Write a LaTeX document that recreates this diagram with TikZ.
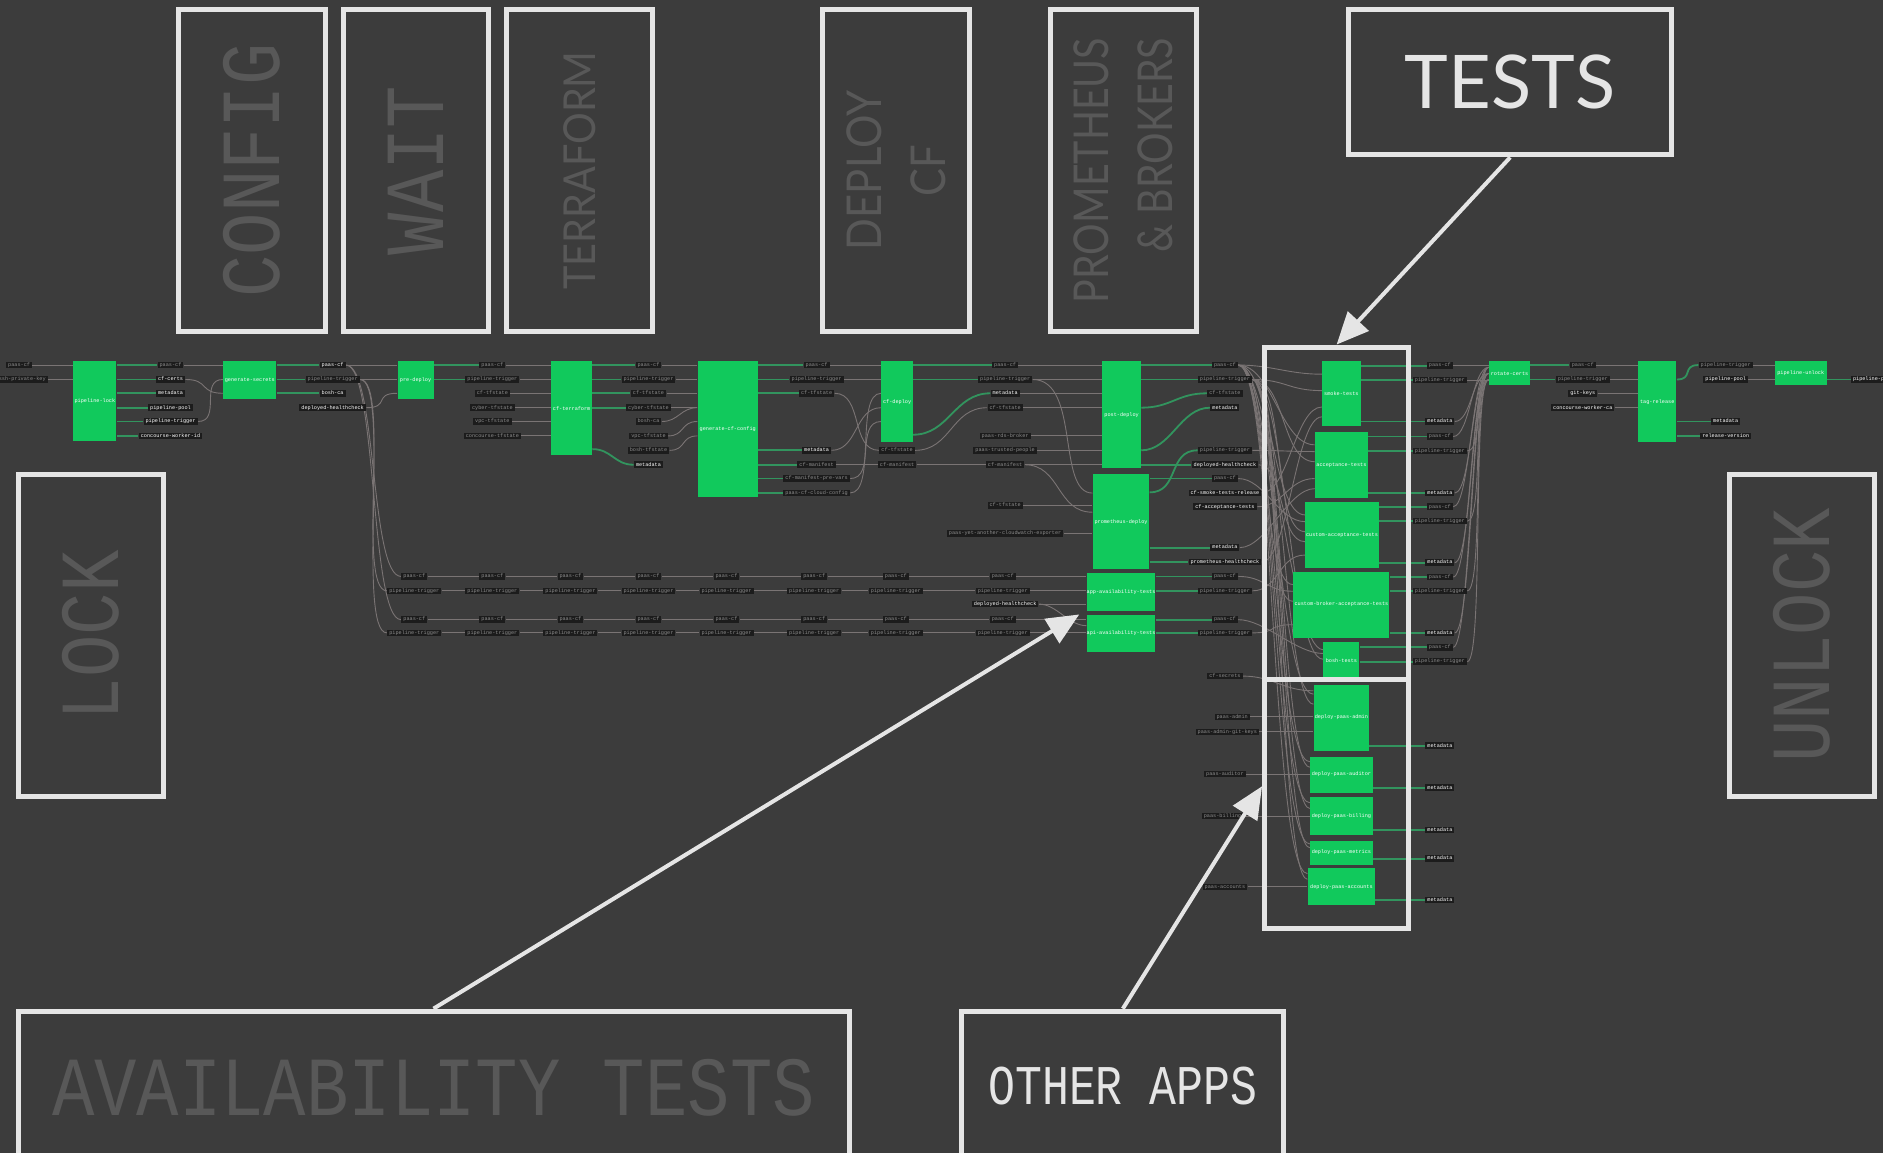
\documentclass[tikz,border=0pt]{standalone}
\usepackage{fontspec}
\setmainfont{Lato}
\newfontfamily\codefont{Liberation Mono}
\usetikzlibrary{arrows.meta,fit,calc}

\definecolor{backdrop}{RGB}{60,60,60}
\definecolor{jobgreen}{RGB}{17,201,92}
\definecolor{feedgreen}{RGB}{50,148,94}
\definecolor{wiregrey}{RGB}{122,116,116}
\definecolor{chip}{RGB}{28,28,28}
\definecolor{chiptext}{RGB}{140,140,140}
\definecolor{outline}{RGB}{229,229,229}
\definecolor{faded}{RGB}{88,88,88}

\pgfdeclarelayer{canvas}
\pgfdeclarelayer{wires}
\pgfsetlayers{canvas,wires,main}

\tikzset{
  job/.style={fill=jobgreen, inner sep=0pt},
  jobname/.style={text=white, inner sep=0pt, font=\codefont\fontsize{2.6}{3}\selectfont},
  res/.style={fill=chip, text=chiptext, inner xsep=1pt, inner ysep=0.4pt, text height=1.9pt, text depth=0.6pt, font=\codefont\fontsize{2.6}{3}\selectfont},
  resw/.style={res, text=white},
  feed/.style={draw=feedgreen, line width=0.9pt},
  wire/.style={draw=wiregrey, line width=0.45pt},
  note/.style={draw=outline, line width=2.5pt, inner sep=0pt},
  pointer/.style={draw=outline, line width=2pt, -{Triangle[length=16pt,width=14pt]}},
  stamp/.style={text=faded, font=\codefont\fontsize{42}{48}\selectfont},
  banner/.style={text=faded, align=center, font=\fontsize{24}{32}\selectfont},
}

\begin{document}
\begin{tikzpicture}[x=0.6pt,y=0.6pt,yscale=-1]
\useasboundingbox (0,0) rectangle (1568,960);
\begin{pgfonlayer}{canvas}
  \fill[backdrop] (0,0) rectangle (1568,960);
\end{pgfonlayer}

% jobs
\node[job, fit={(61,301) (97,367)}, label={[jobname]center:pipeline-lock}] (lock) {};
\node[job, fit={(186,301) (230,332)}, label={[jobname]center:generate-secrets}] (secrets) {};
\node[job, fit={(331,301) (361,332)}, label={[jobname]center:pre-deploy}] (predeploy) {};
\node[job, fit={(459,301) (493,379)}, label={[jobname]center:cf-terraform}] (tf) {};
\node[job, fit={(581,301) (631,414)}, label={[jobname]center:generate-cf-config}] (gencfg) {};
\node[job, fit={(734,301) (760,368)}, label={[jobname]center:cf-deploy}] (cfdeploy) {};
\node[job, fit={(918,301) (950,390)}, label={[jobname]center:post-deploy}] (postdeploy) {};
\node[job, fit={(910,395) (957,474)}, label={[jobname]center:prometheus-deploy}] (prom) {};
\node[job, fit={(905,477) (962,509)}, label={[jobname]center:app-availability-tests}] (appavail) {};
\node[job, fit={(905,512) (962,543)}, label={[jobname]center:api-availability-tests}] (apiavail) {};
\node[job, fit={(1101,301) (1133,355)}, label={[jobname]center:smoke-tests}] (smoke) {};
\node[job, fit={(1095,359.5) (1139,415)}, label={[jobname]center:acceptance-tests}] (acc) {};
\node[job, fit={(1087,418) (1148,473)}, label={[jobname]center:custom-acceptance-tests}] (cacc) {};
\node[job, fit={(1077,476) (1157,531)}, label={[jobname]center:custom-broker-acceptance-tests}] (cbacc) {};
\node[job, fit={(1102,535) (1132,566)}, label={[jobname]center:bosh-tests}] (bosht) {};
\node[job, fit={(1094,570) (1140,625)}, label={[jobname]center:deploy-paas-admin}] (dadmin) {};
\node[job, fit={(1091,630) (1143,660)}, label={[jobname]center:deploy-paas-auditor}] (dauditor) {};
\node[job, fit={(1091,664) (1143,695)}, label={[jobname]center:deploy-paas-billing}] (dbilling) {};
\node[job, fit={(1091,700) (1143,720)}, label={[jobname]center:deploy-paas-metrics}] (dmetrics) {};
\node[job, fit={(1089,723) (1145,754)}, label={[jobname]center:deploy-paas-accounts}] (daccounts) {};
\node[job, fit={(1240,301) (1274,321)}, label={[jobname]center:rotate-certs}] (certs) {};
\node[job, fit={(1364,301) (1396,368)}, label={[jobname]center:tag-release}] (tag) {};
\node[job, fit={(1478,301) (1521,321)}, label={[jobname]center:pipeline-unlock}] (unlock) {};

% resources
\node[res, anchor=east] (a0) at (27,304) {paas-cf};
\node[res, anchor=east] (a1) at (40,316) {ssh-private-key};
\foreach \n/\y/\s/\t in {b0/304/res/paas-cf, b1/316/resw/cf-certs, b2/327.5/resw/metadata, b3/339.5/resw/pipeline-pool, b4/351/resw/pipeline-trigger, b5/363/resw/concourse-worker-id}
  \node[\s] (\n) at (142,\y) {\t};
\foreach \n/\y/\s/\t in {c0/304/resw/paas-cf, c1/316/res/pipeline-trigger, c2/327.5/resw/bosh-ca, c3/339.5/resw/deployed-healthcheck}
  \node[\s] (\n) at (277,\y) {\t};
\foreach \n/\y/\s/\t in {d0/304/res/paas-cf, d1/316/res/pipeline-trigger, d2/327.5/res/cf-tfstate, d3/339.5/res/cyber-tfstate, d4/351/res/vpc-tfstate, d5/363/res/concourse-tfstate}
  \node[\s] (\n) at (410,\y) {\t};
\foreach \n/\y/\s/\t in {e0/304/res/paas-cf, e1/316/res/pipeline-trigger, e2/327.5/res/cf-tfstate, e3/339.5/res/cyber-tfstate, e4/351/res/bosh-ca, e5/363/res/vpc-tfstate, e6/375/res/bosh-tfstate, e7/387/resw/metadata}
  \node[\s] (\n) at (540,\y) {\t};
\foreach \n/\y/\s/\t in {f0/304/res/paas-cf, f1/316/res/pipeline-trigger, f2/327.5/res/cf-tfstate, f6/375/resw/metadata, f7/387/res/cf-manifest, f8/398.5/res/cf-manifest-pre-vars, f9/410.5/res/paas-cf-cloud-config}
  \node[\s] (\n) at (680,\y) {\t};
\node[res] (g6) at (747,375) {cf-tfstate};
\node[res] (g7) at (747,387) {cf-manifest};
\foreach \n/\y/\s/\t in {h0/304/res/paas-cf, h1/316/res/pipeline-trigger, h2/327.5/resw/metadata, h3/339.5/res/cf-tfstate, h5/363/res/paas-rds-broker, h6/375/res/paas-trusted-people, h7/387/res/cf-manifest, h8/421/res/cf-tfstate, h9/444/res/paas-yet-another-cloudwatch-exporter, h10/503/resw/deployed-healthcheck}
  \node[\s] (\n) at (837,\y) {\t};
\foreach \n/\y/\s/\t in {i0/304/res/paas-cf, i1/316/res/pipeline-trigger, i2/327.5/res/cf-tfstate, i3/339.5/resw/metadata, i6/375/res/pipeline-trigger, i7/387/resw/deployed-healthcheck, i8/398.5/res/paas-cf, i9/410.5/resw/cf-smoke-tests-release, i10/422/resw/cf-acceptance-tests, i11/456/resw/metadata, i12/468/resw/prometheus-healthcheck, i13/480/res/paas-cf, i14/492/res/pipeline-trigger, i15/516/res/paas-cf, i16/527/res/pipeline-trigger}
  \node[\s] (\n) at (1020,\y) {\t};
\foreach \n/\x/\y/\t in {o0/1020/563/cf-secrets, o1/1026/597/paas-admin, o2/1022/609.5/paas-admin-git-keys, o3/1020/644.5/paas-auditor, o4/1018/679.5/paas-billing, o5/1020/738.5/paas-accounts}
  \node[res] (\n) at (\x,\y) {\t};
\foreach \n/\y/\s/\t in {j0/304.5/res/paas-cf, j1/316.5/res/pipeline-trigger, j2/351/resw/metadata, j3/363.5/res/paas-cf, j4/375.5/res/pipeline-trigger, j5/410.5/resw/metadata, j6/422/res/paas-cf, j7/434/res/pipeline-trigger, j8/468.5/resw/metadata, j9/480.5/res/paas-cf, j10/492/res/pipeline-trigger, j11/527/resw/metadata, j12/539/res/paas-cf, j13/551/res/pipeline-trigger, n1/621/resw/metadata, n2/656/resw/metadata, n3/691/resw/metadata, n4/715/resw/metadata, n5/749.5/resw/metadata}
  \node[\s] (\n) at (1199,\y) {\t};
\foreach \n/\y/\s/\t in {k0/304/res/paas-cf, k1/316/res/pipeline-trigger, k2/327.5/resw/git-keys, k3/339.5/resw/concourse-worker-ca}
  \node[\s] (\n) at (1318,\y) {\t};
\foreach \n/\y/\s/\t in {l0/304/res/pipeline-trigger, l1/316/resw/pipeline-pool, l4/351/resw/metadata, l5/363/resw/release-version}
  \node[\s] (\n) at (1437,\y) {\t};
\node[resw, anchor=west] (m1) at (1541,316) {pipeline-pool};
\foreach \i/\x in {1/345,2/410,3/475,4/540,5/605,6/678,7/746,8/835}{
  \node[res] (pa\i) at (\x,480) {paas-cf};
  \node[res] (ta\i) at (\x,492) {pipeline-trigger};
  \node[res] (pb\i) at (\x,516) {paas-cf};
  \node[res] (tb\i) at (\x,527) {pipeline-trigger};
}

\begin{pgfonlayer}{wires}
% lock and secrets
\draw[wire] (a0.east) -- (lock.west |- a0);
\draw[wire] (a1.east) -- (lock.west |- a1);
\foreach \n in {b0,b1,b2,b3,b4,b5} \draw[feed] (lock.east |- \n) -- (\n.west);
\draw[wire] (b0.east) -- (secrets.west |- b0);
\draw[wire] (b1.east) .. controls +(20,0) and +(-20,0) .. (secrets.west |- 0,327.5);
\draw[wire] (b4.east) .. controls +(20,0) and +(-20,0) .. (secrets.west |- 0,316);
\foreach \n in {c0,c1,c2} \draw[feed] (secrets.east |- \n) -- (\n.west);
% pre-deploy
\draw[wire] (c0.east) -- (predeploy.west |- c0);
\draw[wire] (c1.east) -- (predeploy.west |- c1);
\draw[wire] (c3.east) .. controls +(20,0) and +(-20,0) .. (predeploy.west |- 0,327.5);
\foreach \n in {d0,d1} \draw[feed] (predeploy.east |- \n) -- (\n.west);
% down to the availability rows
\draw[wire] (c0.east) .. controls +(26,0) and +(-26,0) .. (pa1.west);
\draw[wire] (c0.east) .. controls +(26,0) and +(-26,0) .. (pb1.west);
\draw[wire] (c1.east) .. controls +(26,0) and +(-26,0) .. (ta1.west);
\draw[wire] (c1.east) .. controls +(26,0) and +(-26,0) .. (tb1.west);
\foreach \i [count=\j from 2] in {1,...,7}{
  \draw[wire] (pa\i.east) -- (pa\j.west);
  \draw[wire] (ta\i.east) -- (ta\j.west);
  \draw[wire] (pb\i.east) -- (pb\j.west);
  \draw[wire] (tb\i.east) -- (tb\j.west);
}
\draw[wire] (pa8.east) -- (appavail.west |- pa8);
\draw[wire] (ta8.east) -- (appavail.west |- ta8);
\draw[wire] (h10.east) -- (appavail.west |- h10);
\draw[wire] (pb8.east) -- (apiavail.west |- pb8);
\draw[wire] (tb8.east) -- (apiavail.west |- tb8);
\draw[wire] (h10.east) .. controls +(15,0) and +(-15,0) .. (apiavail.west |- 0,521);
% terraform
\foreach \n in {d0,d1,d2,d3,d4,d5} \draw[wire] (\n.east) -- (tf.west |- \n);
\foreach \n in {e0,e1,e2,e3} \draw[feed] (tf.east |- \n) -- (\n.west);
\draw[feed] (tf.east |- 0,374) .. controls +(16,0) and +(-16,0) .. (e7.west);
% cf config
\foreach \n in {e0,e1,e2,e3} \draw[wire] (\n.east) -- (gencfg.west |- \n);
\draw[wire] (e4.east) .. controls +(14,0) and +(-14,0) .. (gencfg.west |- 0,339.5);
\draw[wire] (e5.east) .. controls +(14,0) and +(-14,0) .. (gencfg.west |- 0,351);
\draw[wire] (e6.east) .. controls +(14,0) and +(-14,0) .. (gencfg.west |- 0,363);
\foreach \n in {f0,f1,f2,f6,f7,f8,f9} \draw[feed] (gencfg.east |- \n) -- (\n.west);
% cf deploy
\draw[wire] (f0.east) -- (cfdeploy.west |- f0);
\draw[wire] (f1.east) -- (cfdeploy.west |- f1);
\draw[wire] (f2.east) .. controls +(24,0) and +(-24,0) .. (g6.west);
\draw[wire] (f6.east) .. controls +(22,0) and +(-22,0) .. (cfdeploy.west |- 0,339.5);
\draw[wire] (f8.east) .. controls +(22,0) and +(-22,0) .. (cfdeploy.west |- 0,351);
\draw[wire] (f9.east) .. controls +(22,0) and +(-22,0) .. (cfdeploy.west |- 0,327.5);
\draw[wire] (f7.east) -- (g7.west);
\draw[feed] (cfdeploy.east |- h0) -- (h0.west);
\draw[feed] (cfdeploy.east |- h1) -- (h1.west);
\draw[feed] (cfdeploy.east |- 0,362) .. controls +(30,0) and +(-30,0) .. (h2.west);
\draw[wire] (g6.east) .. controls +(30,0) and +(-30,0) .. (h3.west);
\draw[wire] (g7.east) -- (h7.west);
% post-deploy and prometheus
\foreach \n in {h0,h1,h2,h3,h5,h6,h7} \draw[wire] (\n.east) -- (postdeploy.west |- \n);
\draw[wire] (h1.east) .. controls +(40,0) and +(-30,0) .. ($(prom.north west)!.2!(prom.south west)$);
\draw[wire] (h7.east) .. controls +(30,0) and +(-30,0) .. ($(prom.north west)!.4!(prom.south west)$);
\foreach \n in {h8,h9} \draw[wire] (\n.east) -- (prom.west |- \n);
\foreach \n in {i0,i1,i7} \draw[feed] (postdeploy.east |- \n) -- (\n.west);
\draw[feed] (postdeploy.east |- 0,339.5) .. controls +(25,0) and +(-25,0) .. (i2.west);
\draw[feed] (postdeploy.east |- 0,375) .. controls +(25,0) and +(-25,0) .. (i3.west);
\draw[feed] (prom.east |- 0,410) .. controls +(25,0) and +(-25,0) .. (i6.west);
\foreach \n in {i8,i11,i12} \draw[feed] (prom.east |- \n) -- (\n.west);
\foreach \n in {i13,i14} \draw[feed] (appavail.east |- \n) -- (\n.west);
\foreach \n in {i15,i16} \draw[feed] (apiavail.east |- \n) -- (\n.west);
% fan into the tests and the apps
\foreach \t in {smoke,acc,cacc,cbacc,bosht}{
  \draw[wire] (i0.east) .. controls +(28,0) and +(-28,0) .. ($(\t.north west)!.2!(\t.south west)$);
  \draw[wire] (i1.east) .. controls +(28,0) and +(-28,0) .. ($(\t.north west)!.45!(\t.south west)$);
}
\foreach \t in {dadmin,dauditor,dbilling,dmetrics,daccounts}{
  \draw[wire] (i0.east) .. controls +(30,0) and +(-30,0) .. ($(\t.north west)!.15!(\t.south west)$);
  \draw[wire] (i1.east) .. controls +(24,0) and +(-24,0) .. ($(\t.north west)!.3!(\t.south west)$);
}
\foreach \n/\t/\f in {i9/smoke/.7, i12/smoke/.85, i6/acc/.3, i10/acc/.7, i11/acc/.85, i8/cacc/.3, i7/cacc/.6, i14/cacc/.8, i13/cbacc/.3, i16/cbacc/.8, i15/bosht/.3}
  \draw[wire] (\n.east) .. controls +(22,0) and +(-22,0) .. ($(\t.north west)!\f!(\t.south west)$);
\draw[wire] (o0.east) .. controls +(25,0) and +(-25,0) .. ($(dadmin.north west)!.1!(dadmin.south west)$);
\foreach \n/\t in {o1/dadmin, o2/dadmin, o3/dauditor, o4/dbilling, o5/daccounts}
  \draw[wire] (\n.east) -- (\t.west |- \n);
% test outputs
\foreach \n in {j0,j1,j2} \draw[feed] (smoke.east |- \n) -- (\n.west);
\foreach \n in {j3,j4,j5} \draw[feed] (acc.east |- \n) -- (\n.west);
\foreach \n in {j6,j7,j8} \draw[feed] (cacc.east |- \n) -- (\n.west);
\foreach \n in {j9,j10,j11} \draw[feed] (cbacc.east |- \n) -- (\n.west);
\foreach \n in {j12,j13} \draw[feed] (bosht.east |- \n) -- (\n.west);
\foreach \t/\n in {dadmin/n1, dauditor/n2, dbilling/n3, dmetrics/n4, daccounts/n5}
  \draw[feed] (\t.east |- \n) -- (\n.west);
% after the tests
\draw[wire] (j0.east) -- (certs.west |- j0);
\draw[wire] (j1.east) -- (certs.west |- j1);
\foreach \n/\f in {j3/.25, j6/.25, j9/.25, j12/.25, j4/.75, j7/.75, j10/.75, j13/.75, j2/.5, j5/.5, j8/.5, j11/.5}
  \draw[wire] (\n.east) .. controls +(14,0) and +(-14,0) .. ($(certs.north west)!\f!(certs.south west)$);
\foreach \n in {k0,k1} \draw[feed] (certs.east |- \n) -- (\n.west);
\foreach \n in {k0,k1,k2,k3} \draw[wire] (\n.east) -- (tag.west |- \n);
\draw[feed] (tag.east |- 0,316) .. controls +(14,0) and +(-14,0) .. (l0.west);
\foreach \n in {l4,l5} \draw[feed] (tag.east |- \n) -- (\n.west);
\foreach \n in {l0,l1} \draw[wire] (\n.east) -- (unlock.west |- \n);
\draw[feed] (unlock.east |- m1) -- (m1.west);
\end{pgfonlayer}

% stage notes
\node[note, fit={(149,8) (271,276)}] (config) {};
\node[stamp, rotate=90] at (config) {\scalebox{0.84}[1]{CONFIG}};
\node[note, fit={(286,8) (407,276)}] (wait) {};
\node[stamp, rotate=90] at (wait) {\scalebox{0.84}[1]{WAIT}};
\node[note, fit={(422,8) (543,276)}] (terraform) {};
\node[banner, rotate=90, font=\fontsize{22}{26}\selectfont] at (terraform) {\scalebox{0.9}[1]{TERRAFORM}};
\node[note, fit={(685,8) (807,276)}] (deploycf) {};
\node[banner, rotate=90] at (deploycf) {\scalebox{0.87}[1]{DEPLOY}\\\scalebox{0.87}[1]{CF}};
\node[note, fit={(875,8) (996,276)}] (brokers) {};
\node[banner, rotate=90, align=right] at (brokers) {\scalebox{0.82}[1]{PROMETHEUS}\\\scalebox{0.82}[1]{\& BROKERS}};
\node[note, fit={(1123,8) (1392,129)}] (testsnote) {};
\node[text=outline, font=\fontsize{37}{40}\selectfont] at (testsnote) {TESTS};
\node[note, fit={(15,395) (136,663)}] (locknote) {};
\node[stamp, rotate=90] at (locknote) {\scalebox{0.84}[1]{LOCK}};
\node[note, fit={(1440,395) (1561,663)}] (unlocknote) {};
\node[stamp, rotate=90] at (unlocknote) {\scalebox{0.84}[1]{UNLOCK}};
\node[note, fit={(15,842) (707,962)}] (availnote) {};
\node[stamp] at ($(availnote.center)+(0,4)$) {\scalebox{0.84}[1]{AVAILABILITY TESTS}};
\node[note, fit={(801,842) (1069,962)}] (othernote) {};
\node[text=outline, font=\codefont\fontsize{28}{32}\selectfont] at ($(othernote.center)+(0,2)$) {\scalebox{0.8}[1]{OTHER APPS}};
\node[note, fit={(1053,289) (1173,566)}] (testsbox) {};
\node[note, fit={(1053,566) (1173,773)}] (appsbox) {};

% pointers
\draw[pointer] (testsnote.south) -- (testsbox.north);
\draw[pointer] (availnote.north) -- ($(apiavail.north west)+(-6,0)$);
\draw[pointer] (othernote.north) -- ($(appsbox.north west)!.43!(appsbox.south west)$);
\end{tikzpicture}
\end{document}
